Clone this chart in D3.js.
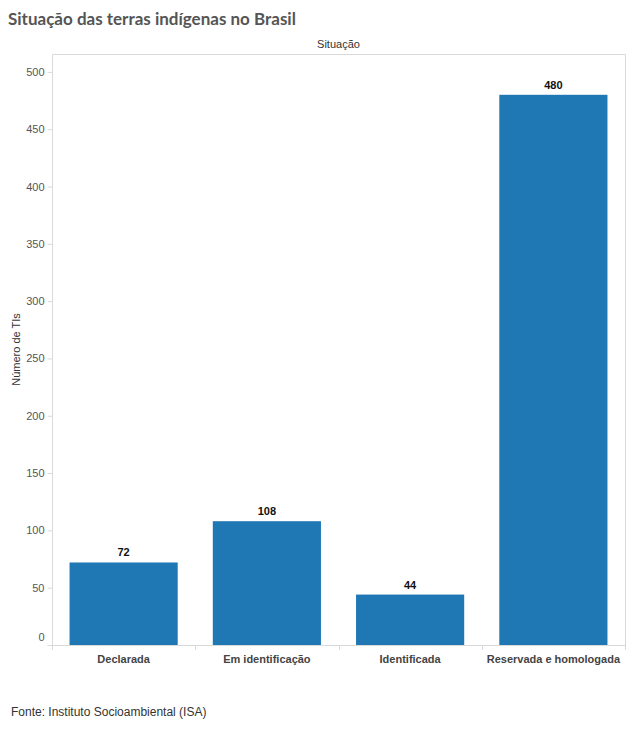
<!DOCTYPE html>
<html><head><meta charset="utf-8">
<script src="https://cdn.jsdelivr.net/npm/d3@7"></script>
<style>body{margin:0;background:#fff;} svg{display:block;}</style>
</head><body>
<script>
const categories = ["Declarada", "Em identificação", "Identificada", "Reservada e homologada"];
const values = [72, 108, 44, 480];
const yTicks = [0, 50, 100, 150, 200, 250, 300, 350, 400, 450, 500];

const W = 634, H = 738;
const svg = d3.select("body").append("svg").attr("width", W).attr("height", H);
const pL = 52, pR = 625, pT = 54, pB = 645;
const x = d3.scaleBand().domain(categories).range([pL, pR]).paddingInner(0.245).paddingOuter(0.1225);
const y = d3.scaleLinear().domain([0, 515.6]).range([pB, pT]);
const grid = "#d9d9d9";

// title
const title = svg.append("text").attr("x", 8).attr("y", 25)
  .attr("font-family", "Lato, 'Open Sans', sans-serif").attr("font-weight", "bold")
  .attr("font-size", 17).attr("fill", "#555").text("Situação das terras indígenas no Brasil");

// header
svg.append("text").attr("x", (pL + pR) / 2).attr("y", 48).attr("text-anchor", "middle")
  .attr("font-family", "'Liberation Sans', Arial, sans-serif").attr("font-size", 11).attr("fill", "#333").text("Situação");

// frame
svg.append("path").attr("d", `M${pL + 0.5},${pB}V${pT + 0.5}H${pR + 0.5}V${pB}`)
  .attr("fill", "none").attr("stroke", grid);

// bars
svg.selectAll("rect.bar").data(categories).join("rect").attr("class", "bar")
  .attr("x", d => x(d)).attr("width", x.bandwidth())
  .attr("y", (d, i) => y(values[i])).attr("height", (d, i) => y(0) - y(values[i]))
  .attr("fill", "#1f77b4");

svg.selectAll("text.val").data(categories).join("text").attr("class", "val")
  .attr("x", d => x(d) + x.bandwidth() / 2).attr("y", (d, i) => y(values[i]) - 6)
  .attr("text-anchor", "middle").attr("font-family", "'Liberation Sans', Arial, sans-serif")
  .attr("font-size", 11).attr("font-weight", "bold").attr("fill", "#111").text((d, i) => values[i]);

// y axis
const ya = svg.append("g").attr("transform", `translate(${pL + 0.5},0)`)
  .call(d3.axisLeft(y).tickValues(yTicks).tickSize(5).tickPadding(3));
ya.select(".domain").remove();
ya.selectAll(".tick line").attr("stroke", grid);
ya.selectAll(".tick text").attr("font-family", "'Liberation Sans', Arial, sans-serif")
  .attr("font-size", 11).attr("fill", "#555")
  .attr("dy", d => d === 0 ? "-0.38em" : "0.32em");

// x axis
const xa = svg.append("g").attr("transform", `translate(0,${pB + 0.5})`)
  .call(d3.axisBottom(x).tickSize(0).tickPadding(10));
xa.select(".domain").attr("stroke", grid).attr("d", `M${pL},0H${pR + 1}`);
xa.selectAll(".tick text").attr("font-family", "'Liberation Sans', Arial, sans-serif")
  .attr("font-size", 11).attr("font-weight", "bold").attr("fill", "#444");
// band separators
const seps = [0, 1, 2, 3].map(i => x(categories[i]) - x.step() * x.paddingInner() / 2).concat([pR]);
seps[0] = pL;
svg.selectAll("line.sep").data(seps).join("line").attr("class", "sep")
  .attr("x1", d => Math.round(d) + 0.5).attr("x2", d => Math.round(d) + 0.5)
  .attr("y1", pB).attr("y2", pB + 5).attr("stroke", grid);

// y label
svg.append("text").attr("transform", `translate(20,${(pT + pB) / 2}) rotate(-90)`)
  .attr("text-anchor", "middle").attr("font-family", "'Liberation Sans', Arial, sans-serif")
  .attr("font-size", 11).attr("fill", "#333").text("Número de TIs");

// footer
svg.append("text").attr("x", 11).attr("y", 716)
  .attr("font-family", "'Liberation Sans', Arial, sans-serif").attr("font-size", 12)
  .attr("fill", "#333").text("Fonte: Instituto Socioambiental (ISA)");
</script>
</body></html>
